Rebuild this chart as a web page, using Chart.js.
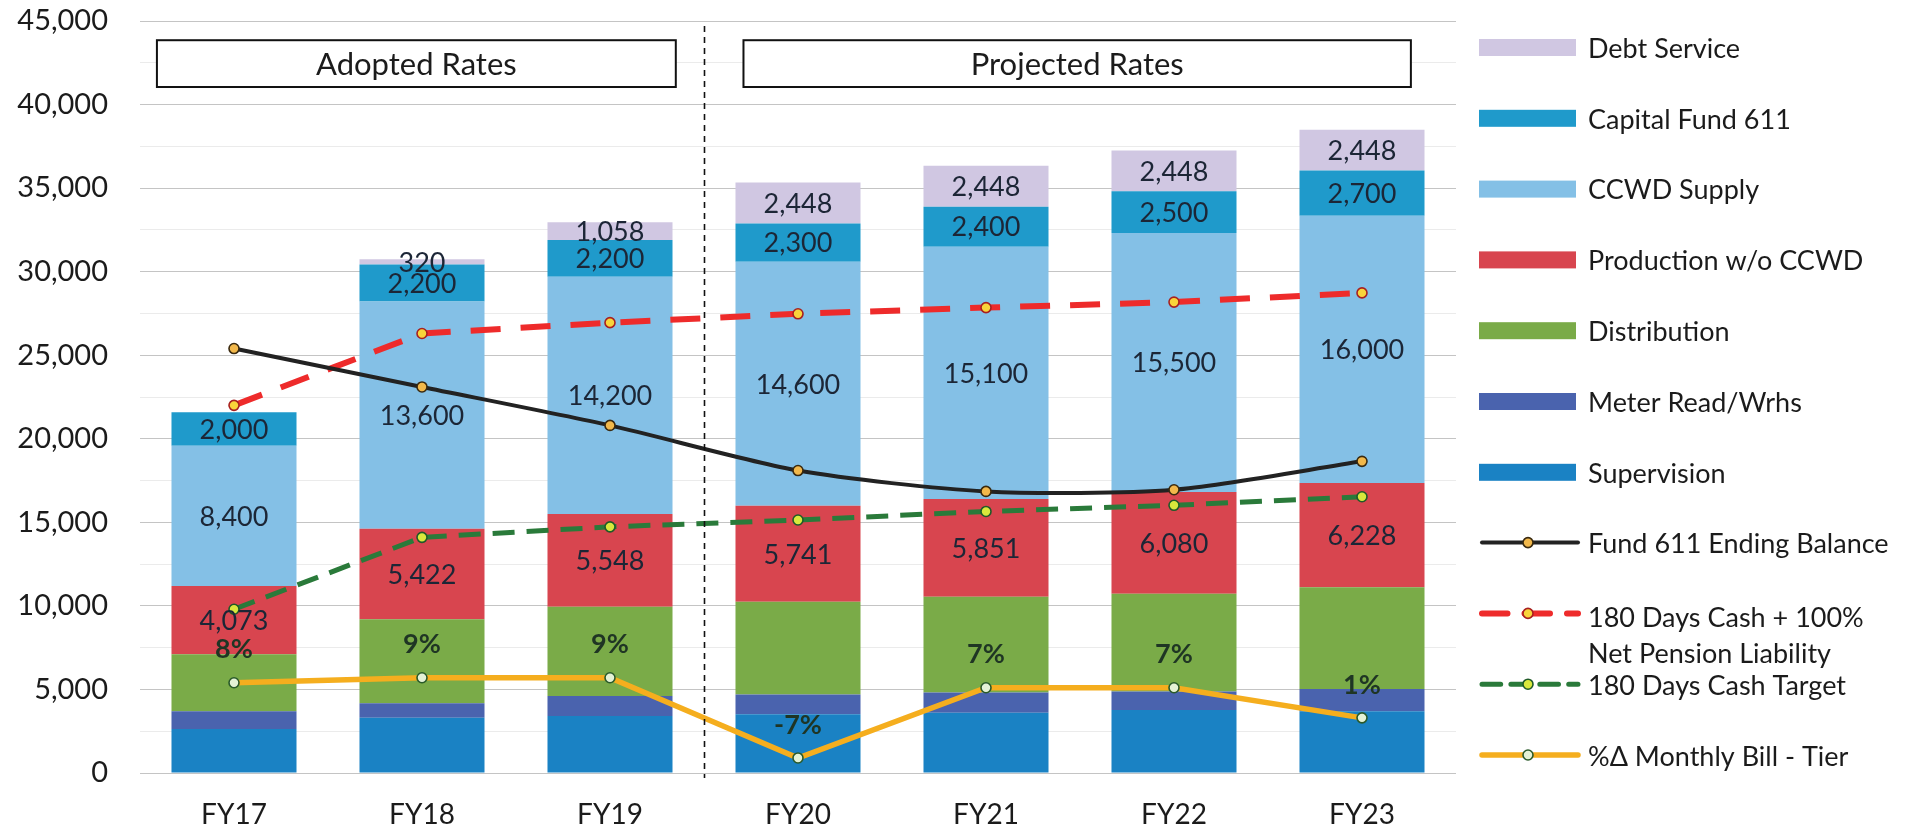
<!DOCTYPE html>
<html>
<head>
<meta charset="utf-8">
<script src="https://cdn.jsdelivr.net/npm/chart.js@4.4.1/dist/chart.umd.min.js"></script>
<style>
  html, body { margin: 0; padding: 0; background: #ffffff; }
  #wrap { width: 1917px; height: 836px; }
</style>
</head>
<body>
<div id="wrap"><canvas id="c" width="1917" height="836"></canvas></div>
<script>
// Fiscal years
const years = ['FY17', 'FY18', 'FY19', 'FY20', 'FY21', 'FY22', 'FY23'];

// Revenue requirement components ($000), stacked bottom to top
const supervision   = [2630, 3310, 3410, 3510, 3610, 3770, 3690];
const meterRead     = [1070, 860, 1200, 1185, 1210, 1100, 1330];
const distribution  = [3410, 5030, 5340, 5550, 5720, 5860, 6100];
const production    = [4073, 5422, 5548, 5741, 5851, 6080, 6228];
const ccwdSupply    = [8400, 13600, 14200, 14600, 15100, 15500, 16000];
const capitalFund   = [2000, 2200, 2200, 2300, 2400, 2500, 2700];
const debtService   = [0, 320, 1058, 2448, 2448, 2448, 2448];

// Fund balance and reserve targets ($000)
const endingBalance   = [25400, 23100, 20800, 18100, 16850, 16950, 18650];
const cashPlusPension = [22000, 26300, 26950, 27480, 27850, 28180, 28730];
const cashTarget      = [9800, 14100, 14730, 15140, 15650, 16020, 16530];

// Percent change in monthly bill
const billChangePct = [8, 9, 9, -7, 7, 7, 1];

// Y axis ticks (labelled every 5,000, light lines every 2,500)
const yTickValues = [0, 2500, 5000, 7500, 10000, 12500, 15000, 17500, 20000, 22500,
                     25000, 27500, 30000, 32500, 35000, 37500, 40000, 42500, 45000];

// Rate period bands (category index range)
const rateBands = [
  { text: 'Adopted Rates',   from: -0.41, to: 2.35 },
  { text: 'Projected Rates', from: 2.71,  to: 6.26 }
];
const periodDivider = 2.5;

const FONT = 'Lato';
const TEXT = '#1b1b1b';
const LABEL = '#1c2636';

function barSet(label, data, color, showValues) {
  return {
    type: 'bar', label, data,
    backgroundColor: color, borderWidth: 0,
    barPercentage: 0.665, categoryPercentage: 1,
    stack: 'budget', order: 5, showValues
  };
}
function lineSet(label, data, color, width, dash, pFill, pBorder, stack, order, extra) {
  return Object.assign({
    type: 'line', label, data,
    borderColor: color, borderWidth: width, borderDash: dash,
    pointRadius: 5, pointBorderWidth: 1.6,
    pointBackgroundColor: pFill, pointBorderColor: pBorder,
    fill: false, tension: 0, stack, order
  }, extra || {});
}

const datasets = [
  barSet('Supervision', supervision, '#1a82c4', false),
  barSet('Meter Read/Wrhs', meterRead, '#4a63ae', false),
  barSet('Distribution', distribution, '#7aab48', false),
  barSet('Production w/o CCWD', production, '#d8454f', true),
  barSet('CCWD Supply', ccwdSupply, '#84c0e6', true),
  barSet('Capital Fund 611', capitalFund, '#1f9acb', true),
  barSet('Debt Service', debtService, '#d0c7e2', true),
  lineSet('Fund 611 Ending Balance', endingBalance, '#222222', 4, [], '#f2b84b', '#3a2a10', 'l1', 1, { tension: 0.25 }),
  lineSet('180 Days Cash + 100%\nNet Pension Liability', cashPlusPension, '#ee2b2b', 6, [30, 20], '#f9d43a', '#a82020', 'l2', 2),
  lineSet('180 Days Cash Target', cashTarget, '#2a7a3a', 5, [22, 12], '#d9e83c', '#1f5a28', 'l3', 3),
  lineSet('%\u0394 Monthly Bill - Tier', billChangePct, '#f5ae1e', 5.5, [], '#e4f2d6', '#2a5a2a', 'l4', 4, { yAxisID: 'y2', pctLabels: true })
];

// Legend order: bar components top-down, then lines
const legendOrder = [6, 5, 4, 3, 2, 1, 0, 7, 8, 9, 10];

const decorPlugin = {
  id: 'decor',
  afterDatasetsDraw(chart) {
    const { ctx, scales: { x, y }, chartArea } = chart;
    ctx.save();

    // Divider between adopted and projected periods
    const dx = Math.round(x.getPixelForValue(periodDivider)) + 0.5;
    ctx.strokeStyle = '#111111';
    ctx.lineWidth = 1.6;
    ctx.setLineDash([6, 5]);
    ctx.beginPath();
    ctx.moveTo(dx, chartArea.top + 5);
    ctx.lineTo(dx, chartArea.bottom + 5);
    ctx.stroke();
    ctx.setLineDash([]);

    // Period boxes
    const top = y.getPixelForValue(43850), bot = y.getPixelForValue(41050);
    rateBands.forEach(b => {
      const l = x.getPixelForValue(b.from), r = x.getPixelForValue(b.to);
      ctx.fillStyle = '#ffffff';
      ctx.fillRect(l, top, r - l, bot - top);
      ctx.strokeStyle = '#111111';
      ctx.lineWidth = 2;
      ctx.strokeRect(l, top, r - l, bot - top);
      ctx.fillStyle = TEXT;
      ctx.font = `31px ${FONT}`;
      ctx.textAlign = 'center';
      ctx.textBaseline = 'middle';
      ctx.fillText(b.text, (l + r) / 2, (top + bot) / 2 + 1);
    });

    // Segment value labels
    chart.data.datasets.forEach((ds, di) => {
      const meta = chart.getDatasetMeta(di);
      if (ds.showValues) {
        ctx.fillStyle = LABEL;
        ctx.font = `27px ${FONT}`;
        ctx.textAlign = 'center';
        ctx.textBaseline = 'middle';
        meta.data.forEach((el, i) => {
          const v = ds.data[i];
          if (!v) return;
          ctx.fillText(v.toLocaleString('en-US'), el.x, (el.y + el.base) / 2 + 1);
        });
      }
      if (ds.pctLabels) {
        ctx.fillStyle = '#1f3524';
        ctx.font = `bold 27px ${FONT}`;
        ctx.textAlign = 'center';
        ctx.textBaseline = 'middle';
        meta.data.forEach((el, i) => {
          ctx.fillText(ds.data[i] + '%', el.x, el.y - 33);
        });
      }
    });
    ctx.restore();
  },
  afterDraw(chart) {
    const { ctx } = chart;
    const sx = 1479, sw = 99, tx = 1588;
    ctx.save();
    ctx.font = `27px ${FONT}`;
    ctx.textBaseline = 'middle';
    ctx.textAlign = 'left';
    legendOrder.forEach((di, k) => {
      const ds = chart.data.datasets[di];
      const cy = 47 + k * 70.8;
      if (ds.type === 'bar') {
        ctx.fillStyle = ds.backgroundColor;
        ctx.fillRect(sx, cy - 8, sw - 2, 17);
      } else {
        ctx.strokeStyle = ds.borderColor;
        ctx.lineWidth = ds.borderWidth;
        ctx.lineCap = 'round';
        ctx.setLineDash(ds.borderDash.map(d => d * 0.85));
        ctx.beginPath();
        ctx.moveTo(sx + 3, cy);
        ctx.lineTo(sx + sw, cy);
        ctx.stroke();
        ctx.setLineDash([]);
        ctx.beginPath();
        ctx.arc(sx + 49, cy, 5, 0, Math.PI * 2);
        ctx.fillStyle = ds.pointBackgroundColor;
        ctx.fill();
        ctx.lineWidth = 1.6;
        ctx.strokeStyle = ds.pointBorderColor;
        ctx.stroke();
      }
      ctx.fillStyle = TEXT;
      const lines = ds.label.split('\n');
      lines.forEach((t, j) => ctx.fillText(t, tx, cy + 2 + j * 36 + (lines.length > 1 ? 3 : 0)));
    });
    ctx.restore();
  }
};

new Chart(document.getElementById('c'), {
  data: { labels: years, datasets },
  options: {
    responsive: false,
    animation: false,
    layout: { padding: { top: 21, right: 461, bottom: 0, left: 0 } },
    plugins: { legend: { display: false }, tooltip: { enabled: false } },
    scales: {
      x: {
        stacked: true,
        grid: { display: false, drawTicks: false },
        border: { display: false },
        ticks: { font: { family: FONT, size: 28 }, color: TEXT, padding: 25 },
        afterFit(s) { s.height = 63; s.paddingLeft = 0; s.paddingRight = 0; }
      },
      y: {
        stacked: true,
        min: 0, max: 45000,
        afterBuildTicks(s) { s.ticks = yTickValues.map(v => ({ value: v })); },
        ticks: {
          autoSkip: false,
          font: { family: FONT, size: 29 }, color: TEXT, padding: 32,
          callback: v => (v % 5000 === 0 ? Number(v).toLocaleString('en-US') : '')
        },
        grid: {
          drawTicks: false,
          lineWidth: 1,
          color: c => (c.tick && c.tick.value % 5000 === 0 ? '#c4c4c4' : '#ebebeb')
        },
        border: { display: false },
        afterFit(s) { s.width = 140; s.paddingTop = 0; s.paddingBottom = 0; }
      },
      y2: { display: false, min: -10, max: 140 }
    }
  },
  plugins: [decorPlugin]
});
</script>
</body>
</html>
